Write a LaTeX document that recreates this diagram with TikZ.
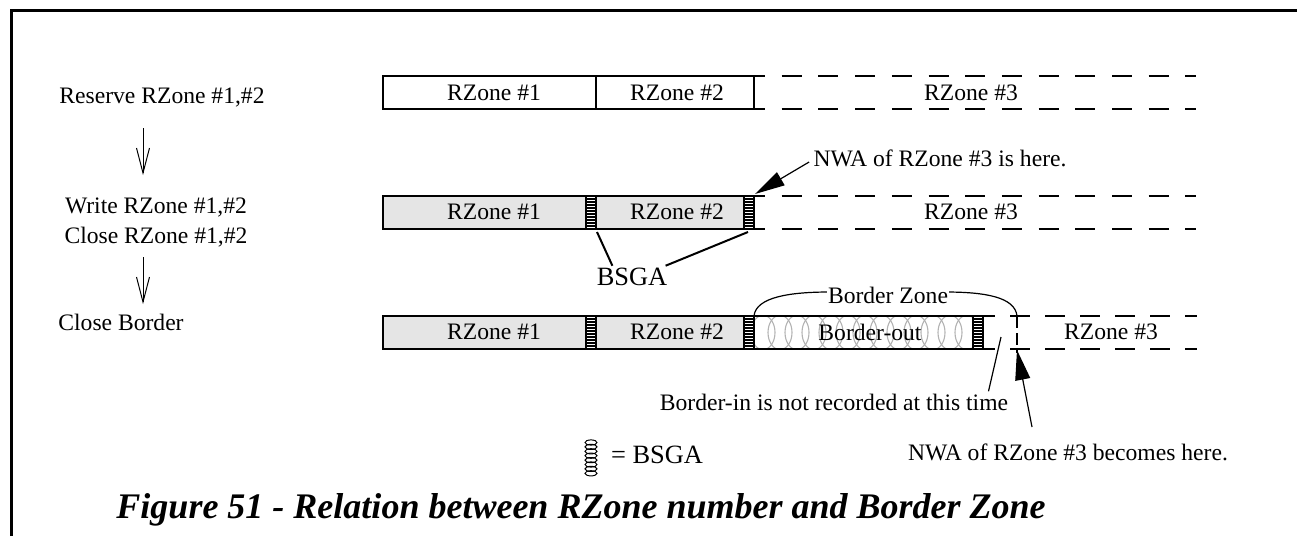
\documentclass[tikz,border=0pt]{standalone}
\usepackage{fontspec}
\setmainfont{Liberation Serif}
\usepackage{tikz}
\usetikzlibrary{arrows.meta}

% BSGA strip: left x, top y
\newcommand{\bsga}[2]{%
  \fill[white] (#1,#2) rectangle ++(10,33);
  \foreach \k in {1,...,10} \draw[rung] (#1,#2) ++(0,3*\k) -- ++(10,0);
  \draw[rung] (#1,#2) rectangle ++(10,33);
}

\begin{document}
\begin{tikzpicture}[
    x=0.5pt,
    y=-0.5pt,
    lbl/.style={inner sep=1pt, font=\fontsize{11.8}{15}\selectfont},
    biglbl/.style={inner sep=1pt, font=\fontsize{13.2}{15}\selectfont},
    zone/.style={draw, line width=1pt},
    gzone/.style={zone, fill=gray!20},
    dashln/.style={line width=1.1pt, dash pattern=on 10pt off 8.35pt},
    dashlnb/.style={line width=1.1pt, dash pattern=on 10pt off 7.5pt},
    rung/.style={line width=0.55pt},
    coil/.style={gray!60, line width=0.55pt},
    downarrow/.style={-{Straight Barb[length=12.5pt,width=6.5pt]}, line width=0.5pt},
    bigarrow/.style={-{Triangle[length=15pt,width=7.5pt]}, line width=0.6pt},
    pointer/.style={line width=1pt},
  ]
    \useasboundingbox (0,0) rectangle (1297,536);

    % -- frame --
    \draw[line width=1.5pt] (11.5,536) -- (11.5,10) -- (1297,10);

    % -- steps on the left --
    \node[lbl] (res) at (162,97) {Reserve RZone \#1,\#2};
    \node[lbl, align=center] (wrt) at (156,222) {Write RZone \#1,\#2\\Close RZone \#1,\#2};
    \node[lbl] (clb) at (121,322) {Close Border};
    \coordinate (a1s) at (143,128);
    \coordinate (a1e) at (143,175);
    \coordinate (a2s) at (143,257);
    \coordinate (a2e) at (143,304);
    \draw[downarrow] (a1s) -- (a1e);
    \draw[downarrow] (a2s) -- (a2e);

    % -- row 1: reserved --
    \draw[zone] (383,76) rectangle (596,109);
    \draw[zone] (596,76) rectangle (754,109);
    \draw[dashln] (745,76) -- (1196,76);
    \draw[dashln] (745,109) -- (1196,109);
    \node[lbl] (r1a) at (494,93) {RZone \#1};
    \node[lbl] (r1b) at (677,93) {RZone \#2};
    \node[lbl] (r1c) at (971,93) {RZone \#3};

    % -- row 2: written and closed --
    \draw[gzone] (383,196) rectangle (596,229);
    \draw[gzone] (596,196) rectangle (754,229);
    \bsga{586}{196}
    \bsga{744}{196}
    \draw[dashln] (745,196) -- (1196,196);
    \draw[dashln] (745,229) -- (1196,229);
    \node[lbl] (r2a) at (494,212) {RZone \#1};
    \node[lbl] (r2b) at (677,212) {RZone \#2};
    \node[lbl] (r2c) at (971,212) {RZone \#3};

    \node[lbl, inner sep=2pt] (nwa1) at (940,158) {NWA of RZone \#3 is here.};
    \coordinate (r2tip) at (755,194);
    \draw[bigarrow] ([yshift=-2pt]nwa1.west) -- (r2tip);

    \node[biglbl] (bsg) at (632,277) {BSGA};
    \coordinate (h1) at (597,232);
    \coordinate (h2) at (748,232);
    \draw[pointer] (h1) -- ([xshift=9pt]bsg.north west);
    \draw[pointer] (h2) -- ([xshift=-2pt]bsg.north east);

    % -- row 3: border closed --
    \draw[gzone] (383,316) rectangle (596,349);
    \draw[gzone] (596,316) rectangle (754,349);
    \begin{scope}
      \clip (754,316) rectangle (975,349);
      \foreach \cx in {763,780,...,975}
        \draw[coil] (\cx,332.5) ellipse [x radius=6pt, y radius=8.6pt];
    \end{scope}
    \draw[zone] (754,316) -- (995,316);
    \draw[zone] (754,349) -- (995,349);
    \bsga{586}{316}
    \bsga{744}{316}
    \bsga{973}{316}
    \draw[dashlnb] (1010,316) -- (1197,316);
    \draw[dashlnb] (1010,349) -- (1197,349);
    \draw[line width=1.1pt, dash pattern=on 6pt off 2.5pt] (1017,316) -- (1017,353);
    \node[lbl] (r3a) at (494,332) {RZone \#1};
    \node[lbl] (r3b) at (677,332) {RZone \#2};
    \node[lbl] (bout) at (870,332) {Border-out};
    \node[lbl] (r3c) at (1111,332) {RZone \#3};

    % border zone brace
    \draw[line width=0.6pt] (754,316) .. controls (756,297) and (790,292) .. (830,292)
        -- (945,292) .. controls (985,292) and (1015,297) .. (1017,316);
    \node[lbl, fill=white, inner sep=0.5pt] (bz) at (888,295) {Border Zone};

    \node[lbl] (bin) at (834,402) {Border-in is not recorded at this time};
    \coordinate (binend) at (1001,337);
    \draw[line width=0.6pt] ([xshift=-11pt]bin.north east) -- (binend);

    \node[lbl] (nwa2) at (1068,452) {NWA of RZone \#3 becomes here.};
    \coordinate (n2s) at (1032,427);
    \coordinate (r3tip) at (1017,350);
    \draw[bigarrow] (n2s) -- (r3tip);

    % -- legend --
    \foreach \k in {0,...,7}
      \draw[line width=0.5pt] (591,{442.5+4.4*\k}) ellipse [x radius=3pt, y radius=1.3pt];
    \node[biglbl] (leg) at (657,455) {= BSGA};

    % -- caption --
    \node[inner sep=1pt, font=\fontsize{18}{20}\selectfont\bfseries\itshape] (cap) at (581,510)
        {Figure 51 - Relation between RZone number and Border Zone};
\end{tikzpicture}
\end{document}
